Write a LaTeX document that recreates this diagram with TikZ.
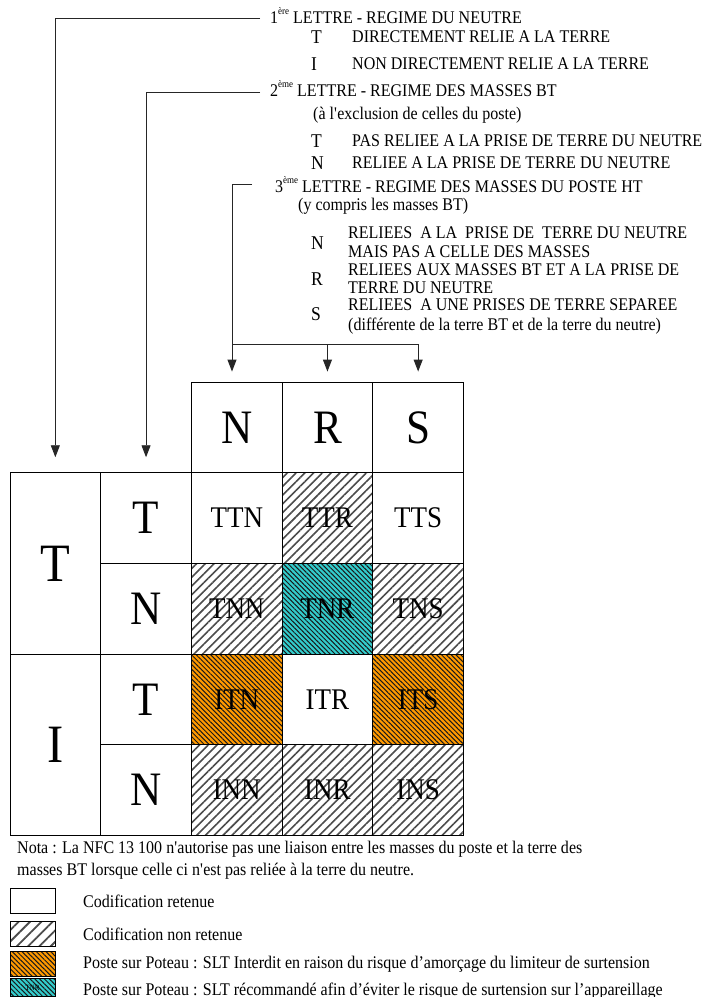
\documentclass[tikz,border=0pt]{standalone}
\usepackage{fontspec}
\setmainfont{Liberation Serif}[FakeStretch=0.9]
\usetikzlibrary{arrows.meta,patterns.meta,calc}
\definecolor{poteauOr}{RGB}{255,153,0}
\definecolor{poteauTe}{RGB}{51,204,204}
\newcommand\supx[1]{\raisebox{0.5em}{\fontsize{10}{10}\selectfont #1}}
\tikzset{
  txt/.style={anchor=base west, inner sep=0pt, font=\fontsize{17.8}{19}\selectfont},
  itemletter/.style={anchor=base west, inner sep=0pt, font=\fontsize{19.5}{20}\selectfont},
  cellbox/.style={draw, line width=0.9pt, minimum width=90.7pt, minimum height=90.7pt, inner sep=0pt, font=\fontsize{30}{30}\selectfont},
  tallbox/.style={cellbox, minimum height=181.4pt},
  bigletter/.style={font=\fontsize{48}{48}\selectfont},
  hugeletter/.style={font=\fontsize{54}{54}\selectfont},
  hatchgray/.style={pattern={Lines[angle=45,distance=6.2pt,line width=1.6pt]}, pattern color=black!70},
  hatchgraylg/.style={pattern={Lines[angle=45,distance=8pt,line width=1.8pt]}, pattern color=black!70},
  hatchor/.style={preaction={fill=poteauOr}, pattern={Lines[angle=-45,distance=3.4pt,line width=1.0pt]}, pattern color=black!90},
  hatchte/.style={preaction={fill=poteauTe}, pattern={Lines[angle=-45,distance=3.4pt,line width=1.0pt]}, pattern color=black!90},
  legbox/.style={draw, line width=0.9pt, minimum width=45pt, minimum height=25pt, inner sep=0pt},
  conn/.style={draw=black!85, line width=0.9pt},
  arr/.style={conn, -{Triangle[width=9pt,length=12pt]}},
}
\begin{document}
\begin{tikzpicture}[x=1pt,y=-1pt]
\fill[white] (0,0) rectangle (704,997);
\useasboundingbox (0,0) rectangle (704,997);

% ---- header texts
\node[txt] (h1) at (270,23) {1\supx{ère} LETTRE - REGIME DU NEUTRE};
\node[itemletter] (h1t) at (311,43) {T};
\node[txt] (h1td) at (352,42) {DIRECTEMENT RELIE A LA TERRE};
\node[itemletter] (h1i) at (311,70) {I};
\node[txt] (h1id) at (352,69) {NON DIRECTEMENT RELIE A LA TERRE};

\node[txt] (h2) at (270,96) {2\supx{ème} LETTRE - REGIME DES MASSES BT};
\node[txt] (h2b) at (313,119) {(à l\textquotesingle exclusion de celles du poste)};
\node[itemletter] (h2t) at (311,147) {T};
\node[txt] (h2td) at (352,146) {PAS RELIEE A LA PRISE DE TERRE DU NEUTRE};
\node[itemletter] (h2n) at (311,169) {N};
\node[txt] (h2nd) at (352,168) {RELIEE A LA PRISE DE TERRE DU NEUTRE};

\node[txt] (h3) at (275,192) {3\supx{ème} LETTRE - REGIME DES MASSES DU POSTE HT};
\node[txt] (h3b) at (298,210) {(y compris les masses BT)};
\node[itemletter] (h3n) at (311,249) {N};
\node[txt] (h3na) at (348,238) {RELIEES \ A LA \ PRISE DE \ TERRE DU NEUTRE};
\node[txt] (h3nb) at (348,257) {MAIS PAS A CELLE DES MASSES};
\node[itemletter] (h3r) at (311,285) {R};
\node[txt] (h3ra) at (348,275) {RELIEES AUX MASSES BT ET A LA PRISE DE};
\node[txt] (h3rb) at (348,293) {TERRE DU NEUTRE};
\node[itemletter] (h3s) at (311,320) {S};
\node[txt] (h3sa) at (348,310) {RELIEES \ A UNE PRISES DE TERRE SEPAREE};
\node[txt] (h3sb) at (348,330) {(différente de la terre BT et de la terre du neutre)};

% ---- grid
\node[cellbox, bigletter] (hN) at (236.75,427.35) {N};
\node[cellbox, bigletter] (hR) at (327.45,427.35) {R};
\node[cellbox, bigletter] (hS) at (418.15,427.35) {S};

\node[tallbox, hugeletter] (lT) at (55.35,563.4) {T};
\node[tallbox, hugeletter] (lI) at (55.35,744.8) {I};

\node[cellbox, bigletter] (mT1) at (146.05,518.05) {T};
\node[cellbox, bigletter] (mN1) at (146.05,608.75) {N};
\node[cellbox, bigletter] (mT2) at (146.05,699.45) {T};
\node[cellbox, bigletter] (mN2) at (146.05,790.15) {N};

\node[cellbox] (ttn) at (236.75,518.05) {TTN};
\node[cellbox, hatchgray] (ttr) at (327.45,518.05) {TTR};
\node[cellbox] (tts) at (418.15,518.05) {TTS};
\node[cellbox, hatchgray] (tnn) at (236.75,608.75) {TNN};
\node[cellbox, hatchte] (tnr) at (327.45,608.75) {TNR};
\node[cellbox, hatchgray] (tns) at (418.15,608.75) {TNS};
\node[cellbox, hatchor] (itn) at (236.75,699.45) {ITN};
\node[cellbox] (itr) at (327.45,699.45) {ITR};
\node[cellbox, hatchor] (its) at (418.15,699.45) {ITS};
\node[cellbox, hatchgray] (inn) at (236.75,790.15) {INN};
\node[cellbox, hatchgray] (inr) at (327.45,790.15) {INR};
\node[cellbox, hatchgray] (ins) at (418.15,790.15) {INS};

% ---- connectors
\coordinate (e1) at (260,18);
\coordinate (e2) at (260,92);
\coordinate (e3) at (252,184);
\coordinate (split) at (232,344);
\draw[arr, shorten >=15pt] (e1) -| (lT.north);
\draw[arr, shorten >=15pt] (e2) -| (mT1.north);
\draw[conn] (e3) -| (split);
\draw[conn] (split) -- (split -| hS.north);
\draw[arr, shorten >=10pt] (split) -- (split |- hN.north);
\draw[arr, shorten >=10pt] (split -| hR.north) -- (hR.north);
\draw[arr, shorten >=10pt] (split -| hS.north) -- (hS.north);

% ---- note
\node[txt] (nota1) at (17,853) {Nota : La NFC 13 100 n\textquotesingle autorise pas une liaison entre les masses du poste et la terre des};
\node[txt] (nota2) at (17,875) {masses BT lorsque celle ci n\textquotesingle est pas reliée à la terre du neutre.};

% ---- legend
\node[legbox] (lg1) at (32.5,900.5) {};
\node[legbox, hatchgraylg] (lg2) at (32.5,933.5) {};
\node[legbox, hatchor] (lg3) at (32.5,963.5) {};
\node[legbox, hatchte, minimum height=18pt, font=\fontsize{8}{8}\selectfont] (lg4) at (32.5,987.5) {TNR};
\node[txt] (lt1) at (83,907) {Codification retenue};
\node[txt] (lt2) at (83,940) {Codification non retenue};
\node[txt] (lt3) at (83,968) {Poste sur Poteau : SLT Interdit en raison du risque d’amorçage du limiteur de surtension};
\node[txt] (lt4) at (83,995) {Poste sur Poteau : SLT récommandé afin d’éviter le risque de surtension sur l’appareillage};
\end{tikzpicture}
\end{document}
